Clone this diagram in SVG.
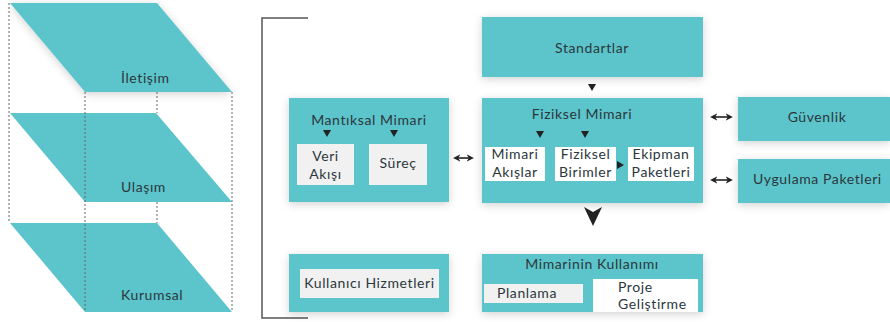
<svg xmlns="http://www.w3.org/2000/svg" width="890" height="322" viewBox="0 0 890 322">
<style>
.t{font-family:Lato,"Noto Sans","DejaVu Sans",sans-serif;font-size:14px;letter-spacing:0.6px;fill:#2b373c;text-anchor:middle}
.l{text-anchor:start}
.box{fill:#5bc5cb}
.in{fill:#ffffff}
.ing{fill:#f1f1f1}
.dash{stroke:#666;stroke-width:1;stroke-dasharray:2 2;fill:none}
.ah{fill:#222}
.dbl{stroke:#222;stroke-width:1.6;fill:none}
</style>
<defs>
<filter id="sh" x="-20%" y="-30%" width="140%" height="160%">
<feDropShadow dx="0" dy="2" stdDeviation="4" flood-color="#000" flood-opacity="0.18"/>
</filter>
<marker id="dh" viewBox="0 0 10 10" refX="6" refY="5" markerWidth="4.5" markerHeight="4.5" orient="auto-start-reverse">
<path d="M0,0 L10,5 L0,10 L3,5 z" fill="#222"/>
</marker>
</defs>
<g id="layers">
<g id="iletisim">
<polygon class="box" points="10,3 157,3 232,92 85,92" filter="url(#sh)"/>
<text class="t l" x="121" y="83">İletişim</text>
</g>
<g id="ulasim">
<polygon class="box" points="10,113 156,113 232,202 85,202"/>
<text class="t l" x="121" y="192">Ulaşım</text>
</g>
<g id="kurumsal">
<polygon class="box" points="10,223 157,223 232,312 85,312"/>
<text class="t l" x="121" y="300">Kurumsal</text>
</g>
<g id="guides">
<line class="dash" x1="9" y1="3" x2="9" y2="223"/>
<line class="dash" x1="85" y1="92" x2="85" y2="312"/>
<line class="dash" x1="157" y1="92" x2="157" y2="113"/>
<line class="dash" x1="157" y1="202" x2="157" y2="223"/>
<line class="dash" x1="232" y1="92" x2="232" y2="312"/>
</g>
</g>
<g id="bracket">
<polyline points="308,18 262,18 262,318 308,318" fill="none" stroke="#555" stroke-width="1.5"/>
</g>
<g id="mantiksal">
<rect class="box" x="289" y="98" width="160" height="104" filter="url(#sh)"/>
<text class="t" x="369" y="125">Mantıksal Mimari</text>
<rect class="ing" x="297" y="144" width="57" height="41"/>
<text class="t" x="325.5" y="161">Veri</text>
<text class="t" x="325.5" y="179">Akışı</text>
<rect class="ing" x="369" y="144" width="58" height="41"/>
<text class="t" x="398" y="168">Süreç</text>
</g>
<g id="kullanici">
<rect class="box" x="289" y="254" width="160" height="58" filter="url(#sh)"/>
<rect class="ing" x="300" y="269" width="139" height="29"/>
<text class="t" x="369.5" y="288">Kullanıcı Hizmetleri</text>
</g>
<g id="standartlar">
<rect class="box" x="482" y="17" width="221" height="60" filter="url(#sh)"/>
<text class="t" x="592" y="53">Standartlar</text>
</g>
<g id="fiziksel">
<rect class="box" x="482" y="98" width="221" height="105" filter="url(#sh)"/>
<text class="t" x="582" y="119">Fiziksel Mimari</text>
<rect class="in" x="485" y="147" width="60" height="34"/>
<text class="t" x="515" y="159">Mimari</text>
<text class="t" x="515" y="177">Akışlar</text>
<rect class="in" x="555" y="147" width="61" height="34"/>
<text class="t" x="585.5" y="159">Fiziksel</text>
<text class="t" x="585.5" y="177">Birimler</text>
<rect class="in" x="628" y="147" width="66" height="34"/>
<text class="t" x="661" y="159">Ekipman</text>
<text class="t" x="661" y="177">Paketleri</text>
</g>
<g id="kullanimi">
<rect class="box" x="482" y="254" width="221" height="58" filter="url(#sh)"/>
<text class="t" x="592" y="269">Mimarinin Kullanımı</text>
<rect class="ing" x="484" y="284" width="99" height="19"/>
<text class="t l" x="497" y="298">Planlama</text>
<rect class="in" x="593" y="279" width="105" height="33"/>
<text class="t l" x="618" y="292">Proje</text>
<text class="t l" x="618" y="309">Geliştirme</text>
</g>
<g id="guvenlik">
<rect class="box" x="738" y="97" width="152" height="44" filter="url(#sh)"/>
<text class="t" x="817" y="122">Güvenlik</text>
</g>
<g id="uygulama">
<rect class="box" x="738" y="159" width="152" height="44" filter="url(#sh)"/>
<text class="t l" x="753" y="184">Uygulama Paketleri</text>
</g>
<g id="connectors">
<polygon class="ah" points="323,130 331,130 327,137"/>
<polygon class="ah" points="390,130 398,130 394,137"/>
<polygon class="ah" points="588,84 596,84 592,91"/>
<polygon class="ah" points="536,131 544,131 540,138"/>
<polygon class="ah" points="581,131 589,131 585,138"/>
<polygon class="ah" points="617,161 617,169 624,165"/>
<polygon class="ah" points="584,207 593,212 602,207 593,226"/>
<line class="dbl" x1="456" y1="158" x2="471" y2="158" marker-start="url(#dh)" marker-end="url(#dh)"/>
<line class="dbl" x1="713" y1="117" x2="730" y2="117" marker-start="url(#dh)" marker-end="url(#dh)"/>
<line class="dbl" x1="713" y1="180" x2="730" y2="180" marker-start="url(#dh)" marker-end="url(#dh)"/>
</g>
</svg>
